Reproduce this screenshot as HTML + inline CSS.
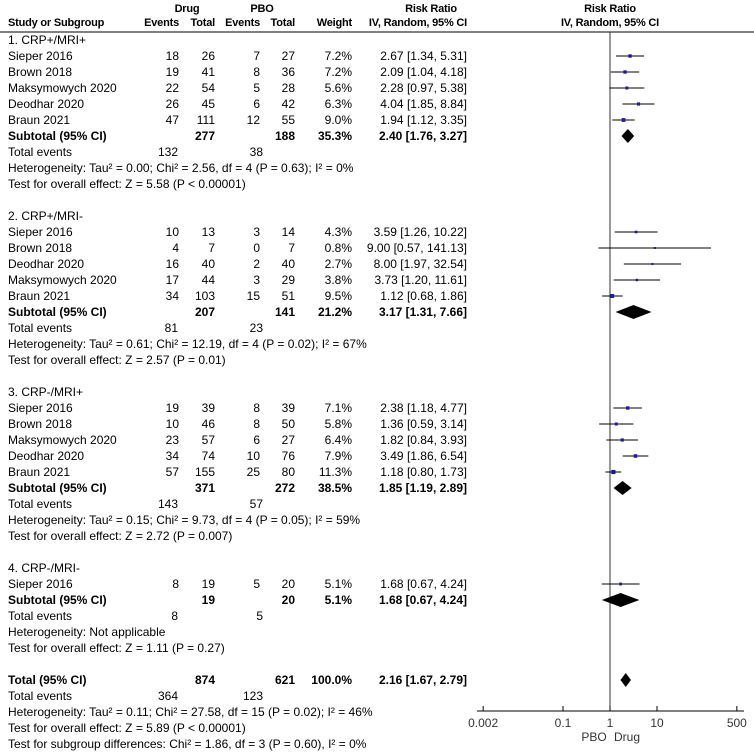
<!DOCTYPE html>
<html><head><meta charset="utf-8"><style>
html,body{margin:0;padding:0;background:#fff;}
svg{display:block;font-family:"Liberation Sans",Arial,sans-serif;font-size:12px;}
.hd{font-size:11px;letter-spacing:-0.2px;}
</style></head><body>
<svg id="fp" width="754" height="752" viewBox="0 0 754 752">
<g id="tbl"></g>
<g id="plot"></g>
</svg>
<script>
// ---- data ----
const groupNames = ["1. CRP+/MRI+","2. CRP+/MRI-","3. CRP-/MRI+","4. CRP-/MRI-"];
const studyNames = [
 ["Sieper 2016","Brown 2018","Maksymowych 2020","Deodhar 2020","Braun 2021"],
 ["Sieper 2016","Brown 2018","Deodhar 2020","Maksymowych 2020","Braun 2021"],
 ["Sieper 2016","Brown 2018","Maksymowych 2020","Deodhar 2020","Braun 2021"],
 ["Sieper 2016"]];
const drugEvents = [[18,19,22,26,47],[10,4,16,17,34],[19,10,23,34,57],[8]];
const drugTotal  = [[26,41,54,45,111],[13,7,40,44,103],[39,46,57,74,155],[19]];
const pboEvents  = [[7,8,5,6,12],[3,0,2,3,15],[8,8,6,10,25],[5]];
const pboTotal   = [[27,36,28,42,55],[14,7,40,29,51],[39,50,27,76,80],[20]];
const weights    = [[7.2,7.2,5.6,6.3,9.0],[4.3,0.8,2.7,3.8,9.5],[7.1,5.8,6.4,7.9,11.3],[5.1]];
const rr  = [[2.67,2.09,2.28,4.04,1.94],[3.59,9.00,8.00,3.73,1.12],[2.38,1.36,1.82,3.49,1.18],[1.68]];
const lo  = [[1.34,1.04,0.97,1.85,1.12],[1.26,0.57,1.97,1.20,0.68],[1.18,0.59,0.84,1.86,0.80],[0.67]];
const hi  = [[5.31,4.18,5.38,8.84,3.35],[10.22,141.13,32.54,11.61,1.86],[4.77,3.14,3.93,6.54,1.73],[4.24]];
const subDrugTotal = [277,207,371,19];
const subPboTotal  = [188,141,272,20];
const subWeight    = ["35.3%","21.2%","38.5%","5.1%"];
const subRR = [2.40,3.17,1.85,1.68];
const subLo = [1.76,1.31,1.19,0.67];
const subHi = [3.27,7.66,2.89,4.24];
const subDrugEv = [132,81,143,8];
const subPboEv  = [38,23,57,5];
const hetText = ["Heterogeneity: Tau\u00b2 = 0.00; Chi\u00b2 = 2.56, df = 4 (P = 0.63); I\u00b2 = 0%",
 "Heterogeneity: Tau\u00b2 = 0.61; Chi\u00b2 = 12.19, df = 4 (P = 0.02); I\u00b2 = 67%",
 "Heterogeneity: Tau\u00b2 = 0.15; Chi\u00b2 = 9.73, df = 4 (P = 0.05); I\u00b2 = 59%",
 "Heterogeneity: Not applicable"];
const testText = ["Test for overall effect: Z = 5.58 (P < 0.00001)","Test for overall effect: Z = 2.57 (P = 0.01)",
 "Test for overall effect: Z = 2.72 (P = 0.007)","Test for overall effect: Z = 1.11 (P = 0.27)"];
const totalVals = {drugTotal:874,pboTotal:621,weight:"100.0%",rr:2.16,lo:1.67,hi:2.79,drugEv:364,pboEv:123};
const tickValues = [0.002,0.1,1,10,500];
const tickLabels = ["0.002","0.1","1","10","500"];

// ---- helpers ----
const NS="http://www.w3.org/2000/svg";
const tbl=document.getElementById('tbl'), plot=document.getElementById('plot');
function el(tag,attrs,parent){const e=document.createElementNS(NS,tag);for(const k in attrs)e.setAttribute(k,attrs[k]);parent.appendChild(e);return e;}
function txt(parent,x,y,s,anchor,bold){const t=el('text',{x:x,y:y,'text-anchor':anchor||'start',fill:'#000'},parent);if(bold)t.setAttribute('font-weight','bold');t.textContent=s;return t;}
const X0=610, K=47;
function xs(v){return X0+Math.log10(v)*K;}
function f2(v){return v.toFixed(2);}
function ci(r,l,h){return f2(r)+" ["+f2(l)+", "+f2(h)+"]";}

// ---- header ----
let t;
t=txt(tbl,187,12,"Drug","middle",true); t.setAttribute('class','hd');  
t=txt(tbl,262,12,"PBO","middle",true); t.setAttribute('class','hd');  
t=txt(tbl,431,12,"Risk Ratio","middle",true); t.setAttribute('class','hd');  
t=txt(tbl,610,12,"Risk Ratio","middle",true); t.setAttribute('class','hd');  
const h2=[[8,"Study or Subgroup","start"],[179,"Events","end"],[215,"Total","end"],[260,"Events","end"],[295,"Total","end"],[352,"Weight","end"],[467,"IV, Random, 95% CI","end"],[610,"IV, Random, 95% CI","middle"]];
h2.forEach(h=>{const e=txt(tbl,h[0],26,h[1],h[2],true);
e.setAttribute('class','hd');

});
let ln=el('line',{x1:0,y1:32,x2:754,y2:32,stroke:'#000','stroke-width':1},tbl);



// vertical line of no effect
ln=el('line',{x1:X0,y1:32,x2:X0,y2:711,stroke:'#333','stroke-width':1},plot);



function diamond(y,r,l,h,name){
 const p=el('polygon',{points:[xs(l)+","+y,xs(r)+","+(y-7),xs(h)+","+y,xs(r)+","+(y+7)].join(" "),fill:'#000'},plot);
 
 
}

const groupStarts=[40,216,392,568];
groupStarts.forEach((gy,g)=>{
 let e=txt(tbl,8,gy+4,groupNames[g]);
 
 
 let y=gy+16;
 studyNames[g].forEach((nm,i)=>{
  const row=el('g',{},tbl);
  
  
  txt(row,8,y+4,nm);
  txt(row,179,y+4,String(drugEvents[g][i]),'end');
  txt(row,215,y+4,String(drugTotal[g][i]),'end');
  txt(row,260,y+4,String(pboEvents[g][i]),'end');
  txt(row,295,y+4,String(pboTotal[g][i]),'end');
  txt(row,352,y+4,weights[g][i].toFixed(1)+"%",'end');
  txt(row,467,y+4,ci(rr[g][i],lo[g][i],hi[g][i]),'end');
  const l=el('line',{x1:Math.max(477,xs(lo[g][i])),y1:y,x2:Math.min(744,xs(hi[g][i])),y2:y,stroke:'#000','stroke-width':1},plot);
  
  
  const s=Math.max(2,1.25*Math.sqrt(weights[g][i]));
  const r=el('rect',{x:xs(rr[g][i])-s/2,y:y-s/2,width:s,height:s,fill:'#1a1aa0'},plot);
  
  
  y+=16;
 });
 const sub=el('g',{},tbl);
 
 
 txt(sub,8,y+4,"Subtotal (95% CI)",'start',true);
 txt(sub,215,y+4,String(subDrugTotal[g]),'end',true);
 txt(sub,295,y+4,String(subPboTotal[g]),'end',true);
 txt(sub,352,y+4,subWeight[g],'end',true);
 txt(sub,467,y+4,ci(subRR[g],subLo[g],subHi[g]),'end',true);
 diamond(y,subRR[g],subLo[g],subHi[g],'subtotal-diamond');
 y+=16;
 const te=el('g',{},tbl);
 
 
 txt(te,8,y+4,"Total events");
 txt(te,178,y+4,String(subDrugEv[g]),'end');
 txt(te,263,y+4,String(subPboEv[g]),'end');
 y+=16;
 e=txt(tbl,8,y+4,hetText[g]);
 
 
 y+=16;
 e=txt(tbl,8,y+4,testText[g]);
 
 
});

// total
const tot=el('g',{},tbl);


txt(tot,8,684,"Total (95% CI)",'start',true);
txt(tot,215,684,String(totalVals.drugTotal),'end',true);
txt(tot,295,684,String(totalVals.pboTotal),'end',true);
txt(tot,352,684,totalVals.weight,'end',true);
txt(tot,467,684,ci(totalVals.rr,totalVals.lo,totalVals.hi),'end',true);
diamond(680,totalVals.rr,totalVals.lo,totalVals.hi,'total-diamond');
const te2=el('g',{},tbl);


txt(te2,8,700,"Total events");
txt(te2,178,700,String(totalVals.drugEv),'end');
txt(te2,263,700,String(totalVals.pboEv),'end');
[["Heterogeneity: Tau\u00b2 = 0.11; Chi\u00b2 = 27.58, df = 15 (P = 0.02); I\u00b2 = 46%",716],
 ["Test for overall effect: Z = 5.89 (P < 0.00001)",732],
 ["Test for subgroup differences: Chi\u00b2 = 1.86, df = 3 (P = 0.60), I\u00b2 = 0%",748]].forEach(a=>{
 const e=txt(tbl,8,a[1],a[0]);
 
 
});

// axis
ln=el('line',{x1:477,y1:711,x2:744,y2:711,stroke:'#000','stroke-width':1},plot);


tickValues.forEach((v,i)=>{
 const tk=el('line',{x1:xs(v),y1:706,x2:xs(v),y2:711,stroke:'#000','stroke-width':1},plot);
 
 
 const lb=txt(plot,xs(v),727,tickLabels[i],'middle');
 lb.setAttribute('fill','#333');
 
 
});
t=txt(plot,594,741,"PBO",'middle'); t.setAttribute('fill','#333');
 
t=txt(plot,627,741,"Drug",'middle'); t.setAttribute('fill','#333');
 
</script>
</body></html>
